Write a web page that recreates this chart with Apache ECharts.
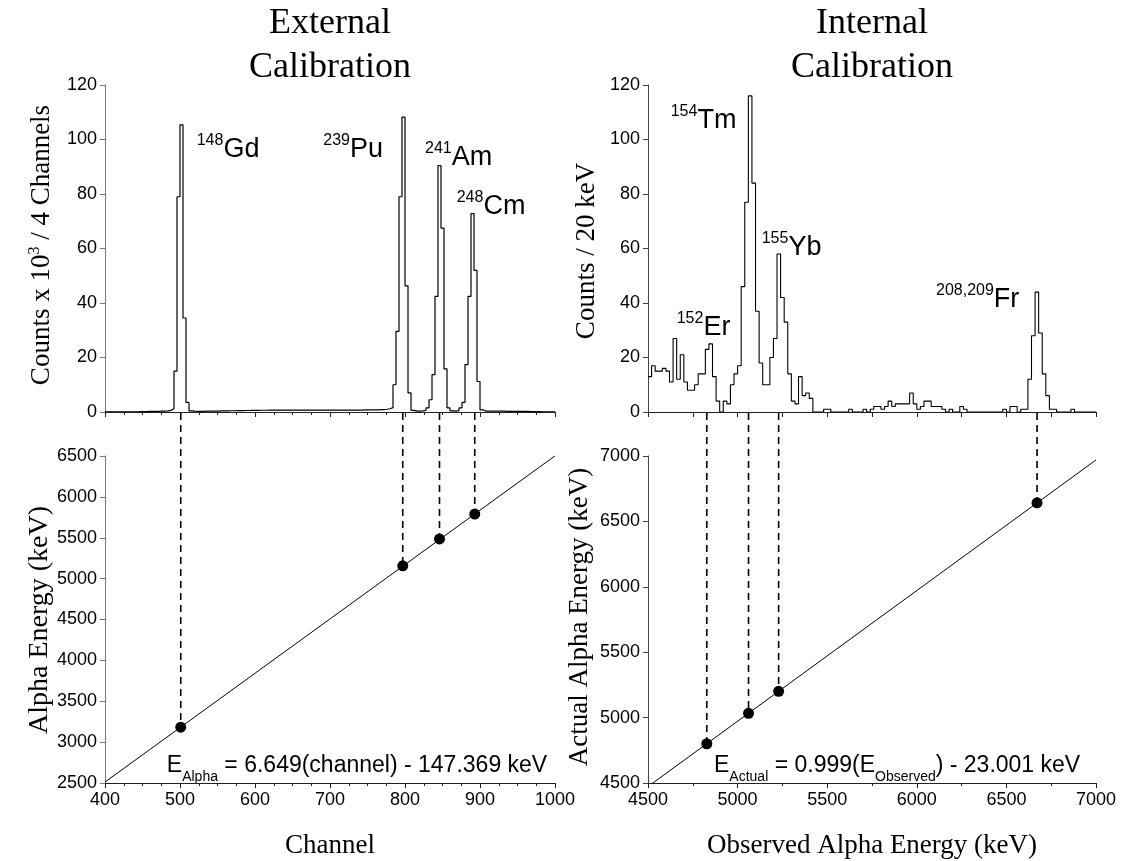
<!DOCTYPE html>
<html><head><meta charset="utf-8">
<script src="https://cdn.jsdelivr.net/npm/echarts@6/dist/echarts.min.js"></script>
<style>html,body{margin:0;padding:0;background:#fff}#c{width:1123px;height:861px}</style>
</head><body><div id="c"></div>
<script>
// ---------- DATA ----------
// External calibration spectrum: 4-channel bins starting at channel 400, counts in thousands
const extBinStart = 400;
const extBinWidth = 4;
const extCounts = [
  0.1,0.1,0.1,0.1,0.1,0.1,0.1,0.1,0.1,0.1,
  0.1,0.15,0.15,0.15,0.2,0.2,0.2,0.25,0.3,0.3,
  0.4,0.6,1.2,15,79,105.4,34.5,3.5,0.4,0.3,
  0.25,0.25,0.25,0.3,0.3,0.3,0.35,0.35,0.4,0.4,
  0.4,0.45,0.45,0.5,0.5,0.5,0.55,0.55,0.6,0.6,
  0.6,0.65,0.65,0.65,0.7,0.7,0.7,0.7,0.7,0.7,
  0.7,0.7,0.7,0.7,0.7,0.7,0.7,0.7,0.7,0.7,
  0.7,0.7,0.7,0.7,0.7,0.7,0.7,0.7,0.7,0.7,
  0.7,0.7,0.7,0.7,0.7,0.7,0.75,0.75,0.75,0.8,
  0.8,0.85,0.9,1.0,1.2,1.6,10,29.6,79,108.2,
  46.3,7,0.6,0.3,0.3,0.4,0.6,1.5,4.5,13.7,
  42.4,90.4,67.5,15.8,1.5,0.4,0.3,0.5,1.5,3.5,
  17.4,42.4,72.8,52,11.2,0.8,0.3,0.3,0.3,0.3,
  0.3,0.3,0.3,0.25,0.25,0.25,0.25,0.2,0.2,0.2,
  0.2,0.15,0.15,0.15,0.15,0.1,0.1,0.1,0.1,0.1
];
// Internal calibration spectrum: 20 keV bins starting at 4500 keV
const intBinStart = 4500;
const intBinWidth = 20;
const intCounts = [
  13,17,15,15,16,15,11,27,12,21,
  11,8,8,10,14,14,23,25,13,4,
  0,4,3,10,14,17,46,77,116,84,
  37,18,10,10,20,27,58,42,33,14,
  4,3,13,6,7,5,0,0,0,1,
  1,0,0,0,0,0,1,0,0,0,
  1,0,1,2,2,1,2,4,2,3,
  3,3,3,7,3,1,2,4,4,2,
  2,2,1,0,1,0,0,2,1,0,
  0,0,0,0,0,0,0,0,0,1,
  0,2,2,0,1,1,12,28,44,29,
  14,6,1,1,0,0,0,0,1,0,
  0,0,0,0,0
];
// Calibration points and fits
const extPointChannel = [501, 797, 846, 893];
const extPointEnergy  = [3183, 5157, 5486, 5790];
const extFitChannel = [400, 1000];
const extFitEnergy  = [2512, 6502];
const intPointObserved = [4828, 5061, 5229, 6671];
const intPointActual   = [4800, 5033, 5201, 6642];
const intFitObserved = [4500, 7000];
const intFitActual   = [4473, 6970];
// Peak labels: [superscript, element]
const extPeakLabels = [["148","Gd"],["239","Pu"],["241","Am"],["248","Cm"]];
const intPeakLabels = [["154","Tm"],["152","Er"],["155","Yb"],["208,209","Fr"]];

// ---------- CHART ----------
const SANS = '"Liberation Sans", Arial, sans-serif';
const SERIF = '"Liberation Serif", "Times New Roman", serif';
const chart = echarts.init(document.getElementById('c'));

function stepData(start, width, counts) {
  const d = counts.map((c, i) => [start + i * width, c]);
  d.push([start + counts.length * width, counts[counts.length - 1]]);
  return d;
}
function zip(a, b) { return a.map((v, i) => [v, b[i]]); }

const grids = [
  {left:105, top:85, width:450, height:327},
  {left:105, top:456, width:450, height:327},
  {left:648, top:85, width:448, height:327},
  {left:648, top:456, width:448, height:327}
].map(g => Object.assign(g, {containLabel:false, outerBoundsMode:'none'}));

const lbl = {fontFamily: 'Liberation Sans', fontSize: 18, color: '#000', formatter: v => String(v)};
function xAx(gi, min, max, interval, showLabel, minorSplit, color) {
  return {type:'value', gridIndex:gi, min, max, interval, position:'bottom',
    axisLine:{show:true, onZero:false, lineStyle:{color, width:1}},
    axisTick:{show:true, length:5, lineStyle:{color, width:1}},
    minorTick:{show: minorSplit > 0, splitNumber: minorSplit || 5, length:3, lineStyle:{color, width:1}},
    axisLabel:Object.assign({show:showLabel, margin:8}, lbl),
    splitLine:{show:false}, minorSplitLine:{show:false}};
}
function yAx(gi, min, max, interval, color) {
  return {type:'value', gridIndex:gi, min, max, interval, position:'left',
    axisLine:{show:true, onZero:false, lineStyle:{color, width:1}},
    axisTick:{show:true, length:5, lineStyle:{color, width:1}},
    axisLabel:Object.assign({show:true, margin:8}, lbl),
    splitLine:{show:false}};
}

const option = {
  animation:false,
  backgroundColor:'#fff',
  grid: grids,
  xAxis: [
    xAx(0, 400, 1000, 100, false, 4, '#222'),
    xAx(1, 400, 1000, 100, true, 4, '#222'),
    xAx(2, 4500, 7000, 250, false, 0, '#222'),
    xAx(3, 4500, 7000, 500, true, 2, '#222')
  ],
  yAxis: [
    yAx(0, 0, 120, 20, '#777'),
    yAx(1, 2500, 6500, 500, '#777'),
    yAx(2, 0, 120, 20, '#444'),
    yAx(3, 4500, 7000, 500, '#444')
  ],
  series: [
    {type:'line', xAxisIndex:0, yAxisIndex:0, step:'end', showSymbol:false, symbol:'none',
     data: stepData(extBinStart, extBinWidth, extCounts), lineStyle:{color:'#000', width:1.2}},
    {type:'line', xAxisIndex:1, yAxisIndex:1, showSymbol:false, symbol:'none',
     data: zip(extFitChannel, extFitEnergy), lineStyle:{color:'#000', width:1}},
    {type:'scatter', xAxisIndex:1, yAxisIndex:1, symbol:'circle', symbolSize:11, z:5,
     itemStyle:{color:'#000', opacity:1}, data: zip(extPointChannel, extPointEnergy)},
    {type:'line', xAxisIndex:2, yAxisIndex:2, step:'end', showSymbol:false, symbol:'none',
     data: stepData(intBinStart, intBinWidth, intCounts), lineStyle:{color:'#000', width:1.1}},
    {type:'line', xAxisIndex:3, yAxisIndex:3, showSymbol:false, symbol:'none',
     data: zip(intFitObserved, intFitActual), lineStyle:{color:'#000', width:1}},
    {type:'scatter', xAxisIndex:3, yAxisIndex:3, symbol:'circle', symbolSize:11, z:5,
     itemStyle:{color:'#000', opacity:1}, data: zip(intPointObserved, intPointActual)}
  ]
};
chart.setOption(option);

// ---------- TEXT & CONNECTORS ----------
const mctx = document.createElement('canvas').getContext('2d');
function fnt(fam, size) { return size + 'px ' + fam; }
function tw(t, f) { mctx.font = f; return mctx.measureText(t).width; }
// parts: [text, size, raise]; returns text elements laid out along a baseline
function run(parts, fam, x0, yBase, align) {
  const ws = parts.map(p => tw(p[0], fnt(fam, p[1])));
  const total = ws.reduce((a, b) => a + b, 0);
  let x = align === 'center' ? x0 - total / 2 : x0;
  const mid = fam === SERIF ? 0.34 : 0.35;
  return parts.map((p, i) => {
    const el = {type:'text', x: x, y: yBase - p[2] - mid * p[1], silent:true,
      style:{text:p[0], font:fnt(fam, p[1]), fill:'#000', align:'left', verticalAlign:'middle',
             textAlign:'left', textVerticalAlign:'middle'}};
    x += ws[i];
    return el;
  });
}
function vrun(parts, fam, xBase, yCenter) {
  return {type:'group', x:xBase, y:yCenter, rotation:Math.PI / 2, children: run(parts, fam, 0, 0, 'center')};
}

const g = [];
// titles
g.push(...run([["External",36,0]], SERIF, 330, 36, 'center'));
g.push(...run([["Calibration",36,0]], SERIF, 330, 80, 'center'));
g.push(...run([["Internal",36,0]], SERIF, 872, 36, 'center'));
g.push(...run([["Calibration",36,0]], SERIF, 872, 80, 'center'));
// axis names
g.push(vrun([["Counts x 10",27,0],["3",16,11],[" / 4 Channels",27,0]], SERIF, 51, 245));
g.push(vrun([["Alpha Energy (keV)",28,0]], SERIF, 49, 620));
g.push(vrun([["Counts / 20 keV",27,0]], SERIF, 596, 251));
g.push(vrun([["Actual Alpha Energy (keV)",27,0]], SERIF, 589, 617));
g.push(...run([["Channel",27,0]], SERIF, 330, 855, 'center'));
g.push(...run([["Observed Alpha Energy (keV)",27,0]], SERIF, 872, 855, 'center'));
// peak labels
const extLabelPos = [[196.7,159.3],[323.3,159.3],[425,166.7],[456.7,216]];
const intLabelPos = [[670.7,130],[676.7,336.7],[761.7,256.7],[936,309.3]];
extPeakLabels.forEach((l, i) => g.push(...run([[l[0],16,13],[l[1],27,0]], SANS, extLabelPos[i][0], extLabelPos[i][1])));
intPeakLabels.forEach((l, i) => g.push(...run([[l[0],16,13],[l[1],27,0]], SANS, intLabelPos[i][0], intLabelPos[i][1])));
// equations
g.push(...run([["E",23,0],["Alpha",14,-8.3],[" = 6.649(channel) - 147.369 keV",23,0]], SANS, 166.8, 773.3));
g.push(...run([["E",23,0],["Actual",14,-8.3],[" = 0.999(E",23,0],["Observed",14,-8.3],[") - 23.001 keV",23,0]], SANS, 714, 773.3));

// dashed connectors from spectrum axis to calibration points
function connectors(topGrid, botGrid, xs, ys) {
  xs.forEach((x, i) => {
    const top = chart.convertToPixel({gridIndex: topGrid}, [x, 0]);
    const bot = chart.convertToPixel({gridIndex: botGrid}, [x, ys[i]]);
    g.push({type:'line', z:1, silent:true,
      shape:{x1: bot[0], y1: top[1] + 1, x2: bot[0], y2: bot[1]},
      style:{stroke:'#000', lineWidth:1.6, lineDash:[7,5]}});
  });
}
connectors(0, 1, extPointChannel, extPointEnergy);
connectors(2, 3, intPointObserved, intPointActual);

chart.setOption({graphic: g});
</script>
</body></html>
